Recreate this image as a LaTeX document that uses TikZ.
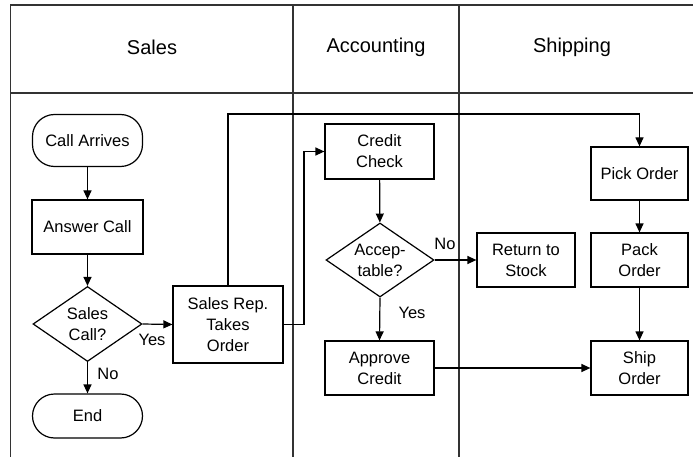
\documentclass[tikz,border=0pt]{standalone}
\usepackage{fontspec}
\setmainfont{Liberation Sans}
\usetikzlibrary{shapes.geometric,arrows.meta}
\begin{document}
\begin{tikzpicture}[x=1pt,y=-1pt,
  every node/.style={font=\fontsize{16.5}{21}\selectfont, inner sep=0pt},
  proc/.style={draw, line width=1.2pt, rectangle, align=center, minimum width=109pt, minimum height=54pt},
  term/.style={draw, line width=1.2pt, rectangle, rounded corners=22pt, align=center, minimum width=110pt},
  dia/.style={draw, line width=1.2pt, diamond, minimum width=109pt, minimum height=75pt},
  lane/.style={line width=1.4pt, draw=black!80},
  arr/.style={line width=1.2pt, -{Triangle[length=9pt,width=8pt]}},
  lbl/.style={font=\fontsize{16.5}{21}\selectfont},
  hdr/.style={font=\fontsize{20}{24}\selectfont}
]
\useasboundingbox (0,0) rectangle (693,457);
% frame
\coordinate (tl) at (10.5,5);
\draw[lane] (10.5,457) -- (tl) -- (693,5);
\draw[lane] (10.5,93) -- (693,93);
\draw[lane] (293,5) -- (293,457);
\draw[lane] (459,5) -- (459,457);
\node[hdr] (hs) at (152,47) {Sales};
\node[hdr] (ha) at (376,47) {Accounting};
\node[hdr] (hp) at (572,47) {Shipping};
% nodes
\node[term, minimum height=52pt] (ca) at (87.5,140.5) {Call Arrives};
\node[proc, minimum width=111pt] (ac) at (87.5,227) {Answer Call};
\node[dia, label={[align=center]center:Sales\\Call?}] (sc) at (87.5,324) {};
\node[term, minimum height=44pt] (en) at (87.5,416) {End};
\node[proc, minimum width=110pt, minimum height=77pt] (sr) at (228,324.5) {Sales Rep.\\Takes\\Order};
\node[proc, minimum height=55pt] (cc) at (379.5,151.5) {Credit\\Check};
\node[dia, minimum width=108pt, minimum height=74pt, label={[align=center]center:Accep-\\table?}] (acc) at (380,260) {};
\node[proc] (ap) at (379.5,368) {Approve\\Credit};
\node[proc, minimum width=98pt] (rts) at (526,260) {Return to\\Stock};
\node[proc, minimum width=97pt, minimum height=53pt] (pick) at (639.5,173.5) {Pick Order};
\node[proc, minimum width=97pt] (pack) at (639.5,260) {Pack\\Order};
\node[proc, minimum width=97pt] (ship) at (639.5,368) {Ship\\Order};
% connectors
\coordinate (topy) at (0,114);
\coordinate (jog) at (304,0);
\draw[arr] (ca) -- (ac);
\draw[arr] (ac) -- (sc);
\draw[arr] (sc.east) -- (sr.west);
\node[lbl] (yes1) at (152,340) {Yes};
\draw[arr] (sc.south) -- (en.north);
\node[lbl] (no1) at (108,374) {No};
\draw[arr] (sr.north) -- (sr.north |- topy) -| (pick.north);
\draw[arr] (sr.east) -- (jog |- sr.east) |- (cc.west);
\draw[arr] (cc) -- (acc);
\draw[arr] (acc.east) -- (rts.west);
\node[lbl] (no2) at (445,244) {No};
\draw[arr] (acc.south) -- (ap.north);
\node[lbl] (yes2) at (412,313) {Yes};
\draw[arr] (ap.east) -- (ship.west);
\draw[arr] (pick) -- (pack);
\draw[arr] (pack) -- (ship);
\end{tikzpicture}
\end{document}
